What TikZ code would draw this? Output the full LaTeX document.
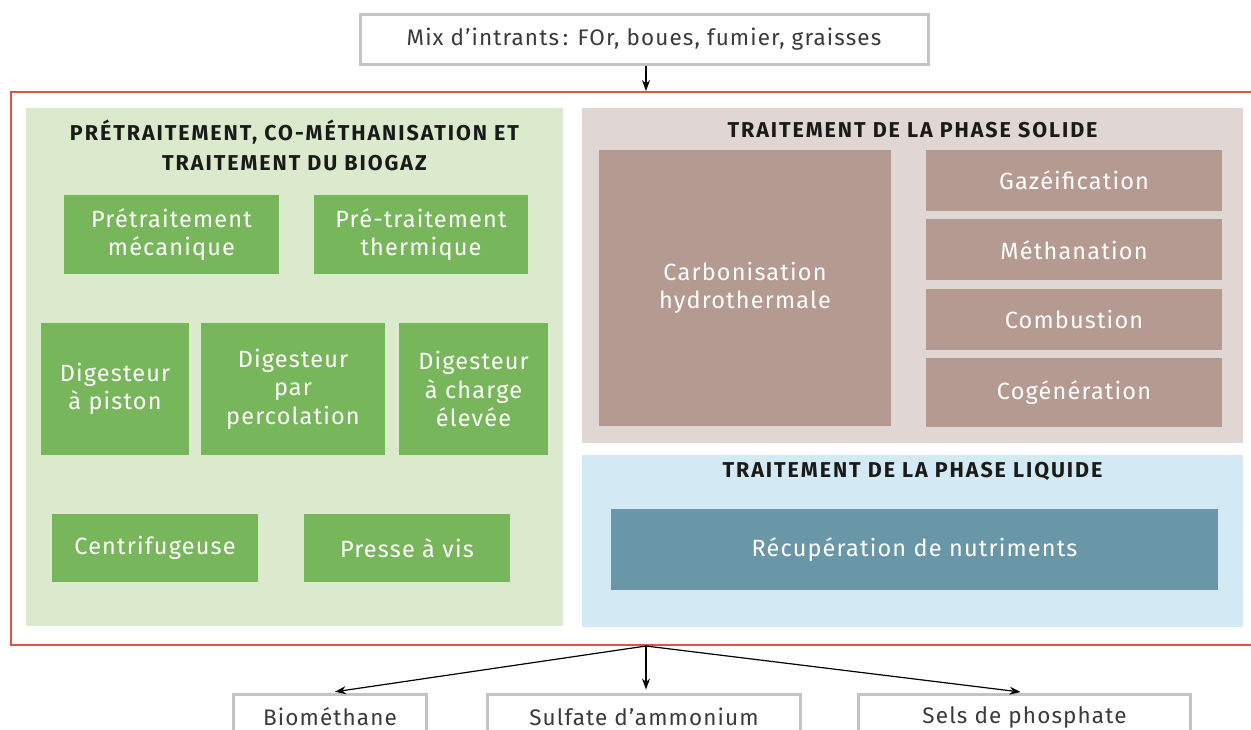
\documentclass[tikz,border=0pt]{standalone}
\usepackage{fontspec}
\setmainfont{Fira Sans}[LetterSpace=5]
\newfontfamily\headfont{Fira Sans}[LetterSpace=9]
\usetikzlibrary{arrows.meta, positioning}
\definecolor{framered}{RGB}{226, 82, 64}
\definecolor{boxgray}{RGB}{196, 196, 196}
\definecolor{txtgray}{RGB}{58, 58, 58}
\definecolor{headblack}{RGB}{26, 26, 24}
\definecolor{greenbg}{RGB}{219, 233, 204}
\definecolor{greenbox}{RGB}{120, 182, 91}
\definecolor{brownbg}{RGB}{224, 215, 212}
\definecolor{brownbox}{RGB}{181, 154, 145}
\definecolor{bluebg}{RGB}{211, 234, 245}
\definecolor{bluebox}{RGB}{106, 151, 167}

\begin{document}
\begin{tikzpicture}[x=1pt, y=-1pt,
  iobox/.style={draw=boxgray, line width=3pt, fill=white, text=txtgray, inner sep=0pt,
    font=\fontsize{22.5}{26}\selectfont},
  panel/.style={fill=#1, inner sep=0pt},
  procbox/.style={fill=#1, text=white, align=center, inner sep=0pt,
    font=\fontsize{23.5}{28.5}\selectfont},
  head/.style={text=headblack, align=center, font=\headfont\fontsize{21.5}{30}\selectfont\bfseries},
  arr/.style={-{Stealth[length=11pt, width=8pt]}, line width=1.2pt, black}]
  \useasboundingbox (0,0) rectangle (1251,729);

  % Outer frame and input
  \node[draw=framered, line width=2pt, inner sep=0pt, minimum width=1270pt, minimum height=553pt] (frame) at (646, 368.5) {};
  \node[iobox, minimum width=568pt, minimum height=50pt] (mix) at (644, 39) {Mix d'intrants\,: FOr, boues, fumier, graisses};
  \draw[arr] (frame.north |- mix.south) -- (frame.north);

  % Pretreatment and co-digestion
  \node[panel=greenbg, minimum width=537pt, minimum height=518pt] (green) at (294.5, 367) {};
  \node[head] (greenhead) at (294.5, 145) {PRÉTRAITEMENT, CO-MÉTHANISATION ET\\TRAITEMENT DU BIOGAZ};
  \node[procbox=greenbox, minimum width=215pt, minimum height=79pt] (meca) at (171.5, 234.5) {Prétraitement\\mécanique};
  \node[procbox=greenbox, minimum width=214pt, minimum height=79pt] (therm) at (421, 234.5) {Pré-traitement\\thermique};
  \node[procbox=greenbox, minimum width=148pt, minimum height=132pt] (piston) at (115, 389) {Digesteur\\à piston};
  \node[procbox=greenbox, minimum width=184pt, minimum height=132pt] (perco) at (293, 389) {Digesteur\\par\\percolation};
  \node[procbox=greenbox, minimum width=149pt, minimum height=132pt] (charge) at (473.5, 389) {Digesteur\\à charge\\élevée};
  \node[procbox=greenbox, minimum width=206pt, minimum height=68pt] (centri) at (155, 548) {Centrifugeuse};
  \node[procbox=greenbox, minimum width=206pt, minimum height=68pt] (presse) at (407, 548) {Presse à vis};

  % Solid phase
  \node[panel=brownbg, minimum width=661pt, minimum height=335pt] (solid) at (912.5, 275.5) {};
  \node[head] (solidhead) at (912.5, 130) {TRAITEMENT DE LA PHASE SOLIDE};
  \node[procbox=brownbox, minimum width=292pt, minimum height=276pt] (carbo) at (745, 288) {Carbonisation\\hydrothermale};
  \node[procbox=brownbox, minimum width=296pt, minimum height=61pt] (gaz) at (1074, 180.5) {Gazéification};
  \node[procbox=brownbox, minimum width=296pt, minimum height=61pt, below=8pt of gaz] (meth) {Méthanation};
  \node[procbox=brownbox, minimum width=296pt, minimum height=61pt, below=8pt of meth] (comb) {Combustion};
  \node[procbox=brownbox, minimum width=296pt, minimum height=69pt, below=8pt of comb] (cog) {Cogénération};

  % Liquid phase
  \node[panel=bluebg, minimum width=661pt, minimum height=172pt] (liquid) at (912.5, 540.5) {};
  \node[head] (liquidhead) at (912.5, 471) {TRAITEMENT DE LA PHASE LIQUIDE};
  \node[procbox=bluebox, minimum width=607pt, minimum height=81pt] (recup) at (914.5, 549.5) {Récupération de nutriments};

  % Outputs
  \node[iobox, minimum width=193pt, minimum height=46pt] (biomet) at (330, 717) {Biométhane};
  \node[iobox, minimum width=313pt, minimum height=46pt] (sulfate) at (644, 717) {Sulfate d'ammonium};
  \node[iobox, minimum width=332pt, minimum height=46pt] (sels) at (1024.5, 717) {Sels de phosphate};

  \draw[arr, shorten >=5pt] (frame.south) -- (biomet.north);
  \draw[arr, shorten >=3pt] (frame.south) -- (frame.south |- sulfate.north);
  \draw[arr, shorten >=4pt] (frame.south) -- (sels.north);
\end{tikzpicture}
\end{document}
